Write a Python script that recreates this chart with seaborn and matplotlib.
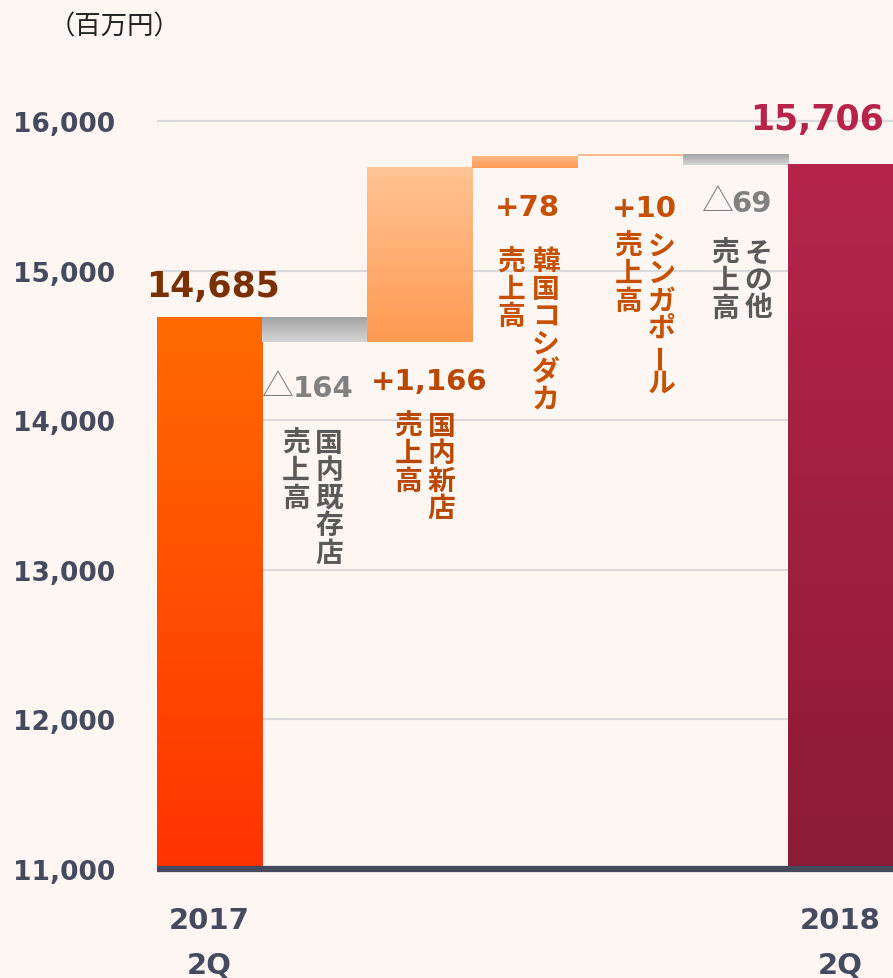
import numpy as np
import pandas as pd
import matplotlib
matplotlib.use("Agg")
import matplotlib.pyplot as plt
import seaborn as sns
from matplotlib.colors import LinearSegmentedColormap

# ---------------- data ----------------
steps = ["2017 2Q", "国内既存店", "国内新店", "韓国コシダカ", "シンガポール", "その他", "2018 2Q"]
start_value = 14685
changes = [-164, 1166, 78, 10, -69]
end_value = 15706
value_texts = ["14,685", "164", "+1,166", "+78", "+10", "69", "15,706"]
delta_marks = ["", "△", "", "", "", "△", ""]
y_ticks = [11000, 12000, 13000, 14000, 15000, 16000]
y_tick_labels = ["11,000", "12,000", "13,000", "14,000", "15,000", "16,000"]
x_tick_labels = ["2017\n2Q", "", "", "", "", "", "2018\n2Q"]
col_right = ["", "国内既存店", "国内新店", "韓国コシダカ", "シンガポール", "その他", ""]
col_left = ["", "売上高", "売上高", "売上高", "売上高", "売上高", ""]
unit_label = "（百万円）"

# waterfall bounds
lowers, uppers = [11000], [start_value]
run = start_value
for c in changes:
    a, b = run, run + c
    lowers.append(min(a, b)); uppers.append(max(a, b))
    run += c
lowers.append(11000); uppers.append(end_value)
df = pd.DataFrame({"step": steps, "upper": uppers, "lower": lowers})

# ---------------- style ----------------
bar_grad = [("#FF3300", "#FF6A00"), ("#D6D6D6", "#A3A3A3"), ("#FF9A52", "#FFC393"),
            ("#FF9A55", "#FFB888"), ("#FFB486", "#FFC49C"), ("#D6D6D6", "#A3A3A3"),
            ("#8C1B35", "#B6244A")]
val_colors = ["#7A3000", "#808080", "#B84800", "#C45000", "#C45000", "#808080", "#B8234A"]
txt_colors = ["", "#5A5A5A", "#B84800", "#C45000", "#C45000", "#5A5A5A", ""]
dark = "#454A5F"
bg = "#FEF6F3"

sns.set_theme(style="white")
plt.rcParams["font.family"] = ["DejaVu Sans", "Noto Sans CJK JP"]

fig = plt.figure(figsize=(8.93, 9.79), dpi=100, facecolor=bg)
ax = fig.add_axes([157 / 893, 1 - 870 / 979, 1 - 157 / 893, (870 - 32.2) / 979])
ax.set_facecolor(bg)

sns.barplot(data=df, x="step", y="upper", order=steps, width=1.0, color="#cccccc",
            saturation=1, errorbar=None, ax=ax)

for i, p in enumerate(ax.patches):
    lo, up = lowers[i], uppers[i]
    p.set_y(lo)
    p.set_height(up - lo)
    p.set_facecolor("none")
    p.set_edgecolor("none")
    x0, w = p.get_x(), p.get_width()
    cmap = LinearSegmentedColormap.from_list(f"g{i}", list(bar_grad[i]))
    grad = np.linspace(0, 1, 256).reshape(-1, 1)
    ax.imshow(grad, cmap=cmap, origin="lower", aspect="auto",
              extent=[x0, x0 + w, lo, up], zorder=2, interpolation="bilinear")

ax.set_xlim(-0.5, 6.5)
ax.set_ylim(11000, 16600)
ax.set_aspect("auto")

ax.set_yticks(y_ticks)
ax.set_yticklabels(y_tick_labels)
ax.set_xticks(range(len(steps)))
ax.set_xticklabels(x_tick_labels)
ax.tick_params(axis="y", length=0, pad=30, labelsize=19, labelcolor=dark)
ax.tick_params(axis="x", length=0, pad=27, labelsize=21, labelcolor=dark)
for lab in ax.get_yticklabels() + ax.get_xticklabels():
    lab.set_fontweight("bold")
for lab in ax.get_xticklabels():
    lab.set_linespacing(1.75)
ax.set_xlabel(""); ax.set_ylabel("")

ax.yaxis.grid(True, color="#D9D9D9", linewidth=1.5)
ax.set_axisbelow(True)
for s in ["top", "right", "left"]:
    ax.spines[s].set_visible(False)
ax.spines["bottom"].set_color(dark)
ax.spines["bottom"].set_linewidth(4.5)
ax.spines["bottom"].set_capstyle("butt")
ax.spines["bottom"].set_zorder(3)

PX = 0.72  # px -> pt at 100 dpi

def ann(txt, xy, dx, dy, **kw):
    ax.annotate(txt, xy=xy, xytext=(dx * PX, dy * PX), textcoords="offset points",
                annotation_clip=False, **kw)

# value labels (offsets in px relative to bar anchors)
ann(value_texts[0], (0, uppers[0]), 3, 22, ha="center", va="baseline",
    fontsize=25, fontweight="bold", color=val_colors[0])
ann(value_texts[6], (6, uppers[6]), 43.5, 36, ha="right", va="baseline",
    fontsize=25, fontweight="bold", color=val_colors[6])

mid_specs = {1: ("left", -0.5, 31, -54, 0),
             2: ("center", 0, 9, -47, None),
             3: ("center", 0, 2.5, -47, None),
             4: ("center", 0, 14.3, -60, None),
             5: ("left", -0.5, 49, -46, 19)}
for i, (ha, xo, dx, dy, tri_dx) in mid_specs.items():
    ann(value_texts[i], (i + xo, lowers[i]), dx, dy, ha=ha, va="baseline",
        fontsize=21, fontweight="bold", color=val_colors[i])
    if delta_marks[i]:
        ann(delta_marks[i], (i + xo, lowers[i]), tri_dx - 1, dy + 1, ha="left", va="baseline",
            fontsize=23, fontweight="light", color=val_colors[i],
            family=["Noto Sans CJK JP", "DejaVu Sans"])

# vertical Japanese labels: (right col dx, left col dx, top dy)
vert_specs = {1: (14.4, -18.6, -87), 2: (21.6, -11.4, -70), 3: (20.5, -13.5, -80),
              4: (31.3, -1.7, -76), 5: (23.2, -9.8, -74)}
ADV = 27.4
for i, (dxr, dxl, top) in vert_specs.items():
    for text, dx in ((col_right[i], dxr), (col_left[i], dxl)):
        for k, ch in enumerate(text):
            ann(ch, (i, lowers[i]), dx, top - ADV / 2 - k * ADV, ha="center", va="center",
                fontsize=20, fontweight="bold", color=txt_colors[i],
                rotation=90 if ch == "ー" else 0,
                family=["Noto Sans CJK JP", "DejaVu Sans"])

fig.text(115 / 893, 1 - 27 / 979, unit_label, ha="center", va="center", fontsize=19,
         color="#222222", family=["Noto Sans CJK JP", "DejaVu Sans"])

fig.savefig("out.png", dpi=100, facecolor=bg)
